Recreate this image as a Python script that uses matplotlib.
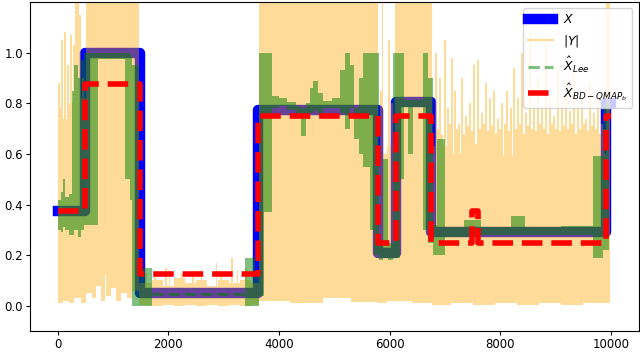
import numpy as np
import matplotlib
matplotlib.use('Agg')
import matplotlib.pyplot as plt
from matplotlib.path import Path
from matplotlib.patches import PathPatch
from matplotlib.lines import Line2D

# true signal X (step edges + level of each step)
x_edges = [0, 500, 1480, 3620, 5780, 6110, 6740, 9910, 10000]
x_vals = [0.375, 1.0, 0.05, 0.775, 0.21, 0.805, 0.29, 0.8]

# BD-QMAP_b estimate
bd_edges = [0, 500, 1480, 3620, 5780, 6110, 6740, 7480, 7600, 9910, 10000]
bd_vals = [0.375, 0.875, 0.125, 0.75, 0.25, 0.75, 0.25, 0.375, 0.25, 0.75]

# |Y| envelope: segment start, min, max (last segment ends at y_end)
y_start = [0, 100, 200, 300, 420, 510, 620, 700, 780, 850, 880, 960, 1050, 1150, 1250, 1350,
           1477, 1700, 1900, 2100, 2300, 2500, 2700, 2900, 3100, 3300, 3500,
           3630, 4200, 4800, 5300, 5780, 5950, 6100, 6400,
           6760, 7100, 7500, 7900, 8300, 8700, 9100, 9500, 9910]
y_min = [0.01, 0.02, 0.01, 0.03, 0.01, 0.05, 0.03, 0.08, 0.02, 0.12, 0.04, 0.07, 0.02, 0.05, 0.03, 0.06,
         0.005, 0.0, 0.005, 0.0, 0.005, 0.0, 0.005, 0.0, 0.005, 0.0, 0.005,
         0.02, 0.01, 0.03, 0.015, 0.01, 0.02, 0.02, 0.01,
         0.005, 0.01, 0.005, 0.01, 0.005, 0.01, 0.005, 0.01, 0.01]
y_max = [0.78, 0.74, 0.8, 0.76, 0.82, 1.2, 1.2, 1.2, 1.2, 1.2, 1.2, 1.2, 1.2, 1.2, 1.2, 1.2,
         0.09, 0.1, 0.08, 0.11, 0.09, 0.1, 0.08, 0.1, 0.09, 0.1, 0.09,
         1.2, 1.2, 1.2, 1.2, 0.6, 0.63, 1.2, 1.2,
         0.63, 0.6, 0.64, 0.59, 0.63, 0.61, 0.64, 0.6, 1.2]
y_end = 9985

# |Y| peaks sticking out of the envelope
peak_x = [20, 70, 130, 190, 240, 290, 330, 360, 400, 450,
          1600, 1760, 1950, 2020, 2250, 2450, 2600, 2870, 2950, 3150, 3250, 3400,
          5840, 5870, 5990, 6040,
          6830, 6870, 6906, 6950, 6997, 7051, 7090, 7124, 7178, 7210, 7250, 7304, 7340, 7377,
          7410, 7449, 7480, 7521, 7594, 7630, 7666, 7700, 7739, 7780, 7811, 7850, 7883, 7920,
          7956, 7990, 8028, 8080, 8119, 8150, 8191, 8245, 8280, 8318, 8350, 8390, 8430, 8463,
          8500, 8535, 8570, 8608, 8650, 8680, 8720, 8752, 8790, 8825, 8860, 8897, 8930, 8970,
          9010, 9042, 9080, 9114, 9150, 9187, 9220, 9259, 9300, 9331, 9370, 9404, 9440, 9476,
          9510, 9548, 9590, 9621, 9660, 9693, 9730, 9766, 9800, 9838, 9870]
peak_y = [0.88, 1.05, 1.08, 0.95, 1.07, 1.03, 1.2, 1.2, 1.15, 0.9,
          0.13, 0.12, 0.15, 0.14, 0.13, 0.12, 0.14, 0.17, 0.13, 0.19, 0.14, 0.15,
          0.85, 1.2, 1.05, 0.8,
          1.0, 0.7, 0.9, 0.68, 1.05, 0.78, 0.72, 0.98, 0.85, 0.7, 0.72, 0.9, 0.68, 0.75,
          0.71, 0.8, 0.69, 0.95, 0.97, 0.7, 0.76, 0.72, 0.88, 0.69, 0.82, 0.71, 0.85, 0.68,
          0.74, 0.7, 0.8, 0.72, 0.85, 0.69, 0.78, 0.94, 0.7, 0.82, 0.72, 1.0, 0.68, 0.76,
          0.71, 1.08, 0.7, 0.8, 0.69, 0.9, 0.72, 0.78, 0.7, 1.04, 0.68, 0.82, 0.72, 0.75,
          0.7, 0.95, 0.69, 0.8, 0.71, 0.88, 0.7, 0.77, 0.72, 0.92, 0.68, 0.78, 0.7, 0.85,
          0.72, 0.74, 0.69, 0.88, 0.71, 0.76, 0.7, 0.82, 0.68, 0.72, 0.7]

# Lee estimate: spread of the (very noisy) curve, segment start, min, max (nan = no band)
lee_start = [0, 60, 100, 130, 200, 265, 300, 360, 420, 470, 720, 1210, 1300, 1350, 1460, 1710,
             3380, 3560, 3640, 3720, 3880, 4000, 4150, 4300, 4400, 4480, 4560, 4620, 4700,
             4800, 4950, 5100, 5200, 5280, 5350, 5450, 5520, 5640, 5720, 5800, 5870, 5960,
             6060, 6180, 6250, 6330, 6420, 6600, 6700, 6780, 6850, 7000, 7350, 7650, 8200,
             8450, 9100, 9680, 9850]
lee_min = [0.3, 0.29, 0.31, 0.3, 0.28, 0.28, 0.3, 0.27, 0.3, 0.32, 0.975, 0.5, 0.42, 0.0, 0.0, np.nan,
           0.0, 0.0, 0.04, 0.37, 0.78, 0.79, 0.775, 0.76, 0.67, 0.74, 0.76, 0.77, 0.76,
           0.78, 0.78, 0.76, 0.7, 0.78, 0.66, 0.6, 0.55, 0.3, 0.2, 0.18, 0.19, 0.18,
           0.19, 0.5, 0.785, 0.6, 0.785, 0.3, 0.25, 0.2, 0.2, 0.27, 0.27, 0.28, 0.28,
           0.28, 0.28, 0.19, 0.22]
lee_max = [0.42, 0.45, 0.5, 0.43, 0.44, 0.85, 0.95, 0.9, 0.97, 1.0, 1.0, 1.0, 0.99, 0.95, 0.15, np.nan,
           0.19, 0.12, 1.0, 1.0, 0.83, 0.82, 0.805, 0.79, 0.78, 0.8, 0.86, 0.89, 0.84,
           0.81, 0.82, 0.93, 1.0, 0.95, 0.78, 0.9, 1.0, 1.0, 1.0, 0.25, 0.58, 0.25,
           1.0, 1.0, 0.815, 0.815, 0.815, 1.0, 0.9, 0.32, 0.66, 0.31, 0.34, 0.31, 0.355,
           0.31, 0.315, 0.59, 0.8]
lee_end = 9960
# part of the Lee curve that stays a clean dashed line
lee_line_x = [1710, 3380]
lee_line_y = [0.047, 0.047]


def boxes(x0, x1, lo, hi):
    verts, codes = [], []
    for a, b, l, h in zip(x0, x1, lo, hi):
        if np.isnan(l):
            continue
        verts += [(a, l), (b, l), (b, h), (a, h), (a, l)]
        codes += [Path.MOVETO, Path.LINETO, Path.LINETO, Path.LINETO, Path.CLOSEPOLY]
    return verts, codes


fig, ax = plt.subplots(figsize=(6.4, 3.53), dpi=100)
fig.subplots_adjust(left=0.047, right=0.998, bottom=0.062, top=0.994)

ax.step(x_edges, x_vals + [x_vals[-1]], where='post', color='blue', lw=7.5, zorder=1, label='$X$')

# |Y| : envelope + peaks as one path so the alpha does not stack
v1, c1 = boxes(y_start, y_start[1:] + [y_end], y_min, y_max)
pw = 32
v2, c2 = boxes([p - pw / 2 for p in peak_x], [p + pw / 2 for p in peak_x],
               [0.05] * len(peak_x), peak_y)
ax.add_patch(PathPatch(Path(v1 + v2, c1 + c2), facecolor='orange', edgecolor='none',
                       alpha=0.4, zorder=2))

v3, c3 = boxes(lee_start, lee_start[1:] + [lee_end], lee_min, lee_max)
ax.add_patch(PathPatch(Path(v3, c3), facecolor='green', edgecolor='none', alpha=0.5, zorder=3))
ax.plot(lee_line_x, lee_line_y, '--', color='green', alpha=0.5, lw=2.2, zorder=3,
        label=r'$\hat{X}_{Lee}$')

ax.step(bd_edges, bd_vals + [bd_vals[-1]], where='post', color='red', ls='--', lw=4, zorder=4,
        label=r'$\hat{X}_{BD-QMAP_b}$')

ax.set_xlim(-500, 10500)
ax.set_ylim(-0.1, 1.2)
ax.set_xticks([0, 2000, 4000, 6000, 8000, 10000])
ax.set_yticks([0.0, 0.2, 0.4, 0.6, 0.8, 1.0])
ax.tick_params(labelsize=8.5, length=3, pad=2)

h, l = ax.get_legend_handles_labels()
y_handle = Line2D([], [], color='orange', alpha=0.4, lw=1.5)
ax.legend([h[0], y_handle, h[1], h[2]], [l[0], '$|Y|$', l[1], l[2]],
          loc='upper right', fontsize=9)

fig.savefig('out.png', dpi=100)
